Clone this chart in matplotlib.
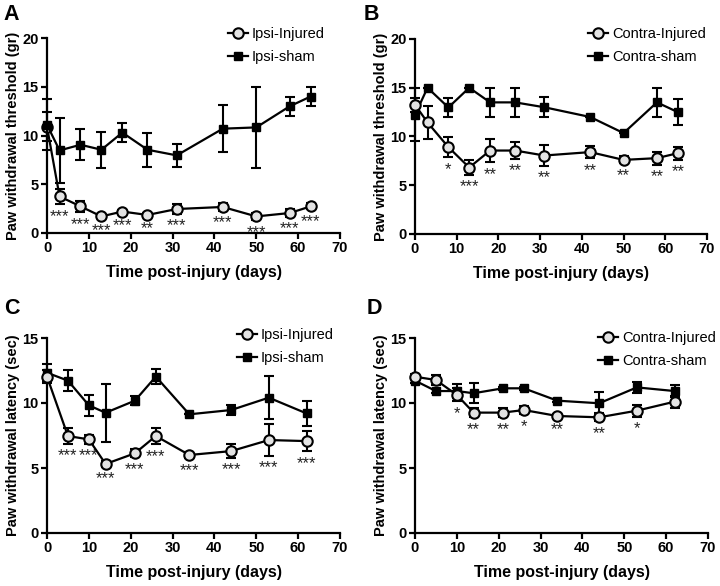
import matplotlib
matplotlib.use("Agg")
import matplotlib.pyplot as plt
from matplotlib.lines import Line2D
import numpy as np

plt.rcParams['font.family'] = ['Liberation Sans', 'DejaVu Sans']

# ---------------- Data ----------------
# Panel A: ipsilateral mechanical threshold (gr)
a_days = [0, 3, 8, 13, 18, 24, 31, 42, 50, 58, 63]
a_inj = [10.9, 3.75, 2.73, 1.7, 2.2, 1.85, 2.46, 2.67, 1.7, 2.05, 2.73]
a_inj_err = [1.5, 0.8, 0.6, 0.2, 0.2, 0.2, 0.5, 0.4, 0.4, 0.4, 0.3]
a_sham = [11.1, 8.47, 9.05, 8.54, 10.3, 8.54, 7.96, 10.7, 10.83, 13.0, 14.0]
a_sham_err = [2.6, 3.3, 1.6, 1.85, 0.95, 1.75, 1.2, 2.4, 4.15, 1.0, 1.0]
a_stars = ['', '***', '***', '***', '***', '**', '***', '***', '***', '***', '***']

# Panel B: contralateral mechanical threshold (gr)
b_days = [0, 3, 8, 13, 18, 24, 31, 42, 50, 58, 63]
b_inj = [13.26, 11.44, 8.91, 6.82, 8.56, 8.56, 8.05, 8.4, 7.6, 7.78, 8.29]
b_inj_err = [0.7, 1.65, 1.05, 0.73, 1.2, 0.85, 1.07, 0.63, 0.35, 0.68, 0.68]
b_sham = [12.23, 15.0, 12.98, 15.0, 13.5, 13.5, 13.0, 12.0, 10.35, 13.5, 12.5]
b_sham_err = [2.7, 0.0, 1.0, 0.0, 1.5, 1.5, 1.0, 0.0, 0.0, 1.5, 1.33]
b_stars = ['', '', '*', '***', '**', '**', '**', '**', '**', '**', '**']

# Panel C: ipsilateral thermal latency (sec)
c_days = [0, 5, 10, 14, 21, 26, 34, 44, 53, 62]
c_inj = [12.03, 7.46, 7.2, 5.31, 6.13, 7.46, 6.0, 6.3, 7.15, 7.07]
c_inj_err = [0.5, 0.6, 0.32, 0.2, 0.3, 0.64, 0.25, 0.52, 1.2, 0.78]
c_sham = [12.33, 11.72, 9.82, 9.25, 10.18, 12.03, 9.13, 9.46, 10.41, 9.2]
c_sham_err = [0.65, 0.8, 0.83, 2.25, 0.33, 0.6, 0.0, 0.4, 1.65, 0.98]
c_stars = ['', '***', '***', '***', '***', '***', '***', '***', '***', '***']

# Panel D: contralateral thermal latency (sec)
d_days = [0, 5, 10, 14, 21, 26, 34, 44, 53, 62]
d_inj = [12.02, 11.77, 10.62, 9.26, 9.26, 9.46, 9.0, 8.9, 9.41, 10.1]
d_inj_err = [0.2, 0.38, 0.5, 0.35, 0.35, 0.33, 0.15, 0.3, 0.45, 0.45]
d_sham = [11.72, 10.92, 10.92, 10.75, 11.13, 11.13, 10.18, 9.98, 11.2, 10.92]
d_sham_err = [0.15, 0.15, 0.57, 0.76, 0.1, 0.1, 0.1, 0.85, 0.4, 0.45]
d_stars = ['', '', '*', '**', '**', '*', '**', '**', '*', '']

panels = [
    dict(letter='A', days=a_days, inj=a_inj, inj_err=a_inj_err, sham=a_sham,
         sham_err=a_sham_err, stars=a_stars, ymax=20,
         ylabel='Paw withdrawal threshold (gr)',
         labels=('Ipsi-Injured', 'Ipsi-sham'), sham_on_top=True),
    dict(letter='B', days=b_days, inj=b_inj, inj_err=b_inj_err, sham=b_sham,
         sham_err=b_sham_err, stars=b_stars, ymax=20,
         ylabel='Paw withdrawal threshold (gr)',
         labels=('Contra-Injured', 'Contra-sham'), sham_on_top=False),
    dict(letter='C', days=c_days, inj=c_inj, inj_err=c_inj_err, sham=c_sham,
         sham_err=c_sham_err, stars=c_stars, ymax=15,
         ylabel='Paw withdrawal latency (sec)',
         labels=('Ipsi-Injured', 'Ipsi-sham'), sham_on_top=False),
    dict(letter='D', days=d_days, inj=d_inj, inj_err=d_inj_err, sham=d_sham,
         sham_err=d_sham_err, stars=d_stars, ymax=15,
         ylabel='Paw withdrawal latency (sec)',
         labels=('Contra-Injured', 'Contra-sham'), sham_on_top=False),
]

W, H = 720, 586
fig = plt.figure(figsize=(W / 100, H / 100), dpi=100)

# axes boxes in pixels: left, top(y of ymax), right(x of 70), bottom(y of 0)
boxes = [(47, 38, 340, 233), (415, 39, 707, 234), (47, 338, 340, 533), (415, 338, 708, 533)]
letter_pos = [(3, 15), (364, 15), (4, 308), (367, 308)]
legend_pos = [(228, 27), (588, 27), (237, 328), (598, 331)]

lw = 1.6
for p, box, lp, lg in zip(panels, boxes, letter_pos, legend_pos):
    l, t, r, b = box
    ax = fig.add_axes([l / W, 1 - b / H, (r - l) / W, (b - t) / H])
    ax.set_xlim(0, 70)
    ax.set_ylim(0, p['ymax'])
    for s in ['top', 'right']:
        ax.spines[s].set_visible(False)
    for s in ['left', 'bottom']:
        ax.spines[s].set_linewidth(1.6)
    ax.set_xticks(np.arange(0, 71, 10))
    ax.set_yticks(np.arange(0, p['ymax'] + 1, 5))
    ax.tick_params(direction='out', length=4, width=1.6, labelsize=10.5, pad=2)
    for lab in ax.get_xticklabels() + ax.get_yticklabels():
        lab.set_fontweight('bold')

    zi, zs = (3, 4) if p['sham_on_top'] else (4, 3)
    ei = ax.errorbar(p['days'], p['inj'], yerr=p['inj_err'], fmt='-o', color='black',
                     mfc='#e3e3e3', mec='black', mew=1.5, ms=7.5, lw=lw,
                     capsize=3.6, capthick=1.5, elinewidth=1.5, zorder=zi,
                     clip_on=False)
    es = ax.errorbar(p['days'], p['sham'], yerr=p['sham_err'], fmt='-s', color='black',
                     mfc='black', mec='black', ms=6, lw=lw,
                     capsize=3.6, capthick=1.5, elinewidth=1.5, zorder=zs,
                     clip_on=False)
    for art in (ei, es):
        for c in art.get_children():
            c.set_clip_on(False)

    for x, y, e, st in zip(p['days'], p['inj'], p['inj_err'], p['stars']):
        if st:
            ax.annotate(st, xy=(x, y - e), xytext=(0, -12), textcoords='offset points',
                        ha='center', va='baseline', fontsize=12, color='#222222')

    ax.set_xlabel('Time post-injury (days)', fontsize=11.5, fontweight='bold', labelpad=7)
    ax.set_ylabel(p['ylabel'], fontsize=10.5, fontweight='bold', labelpad=2)

    h_inj = Line2D([], [], color='black', lw=lw, marker='o', mfc='#e3e3e3', mec='black',
                   mew=1.5, ms=7.5)
    h_sham = Line2D([], [], color='black', lw=lw, marker='s', mfc='black', mec='black', ms=6)
    fig.legend([h_inj, h_sham], list(p['labels']), loc='upper left',
               bbox_to_anchor=(lg[0] / W, 1 - lg[1] / H), frameon=False,
               fontsize=10.5, handlelength=1.35, handletextpad=0.3,
               labelspacing=0.6, borderaxespad=0, borderpad=0)

    fig.text(lp[0] / W, 1 - lp[1] / H, p['letter'], fontsize=15.5, fontweight='bold',
             ha='left', va='center')

fig.savefig('out.png', dpi=100)
